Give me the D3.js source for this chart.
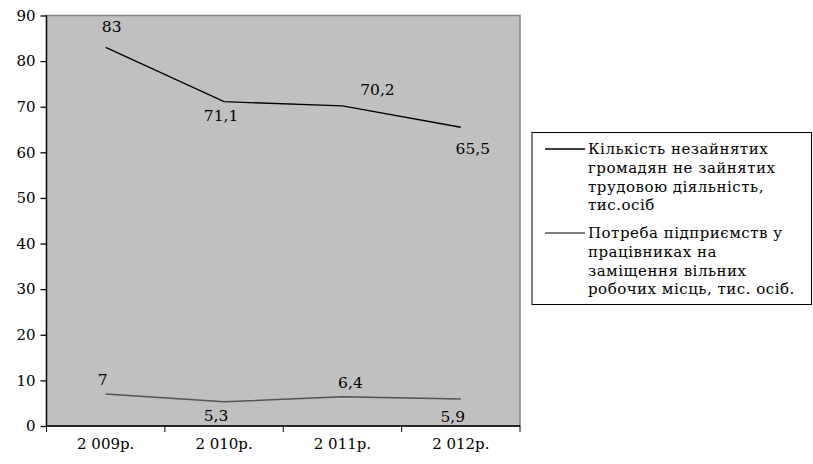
<!DOCTYPE html>
<html>
<head>
<meta charset="utf-8">
<script src="https://cdn.jsdelivr.net/npm/d3@7"></script>
<style>
  body { margin: 0; background: #fff; }
</style>
</head>
<body>
<script>
// chart data
const years = ["2 009р.", "2 010р.", "2 011р.", "2 012р."];
const unemployed = [83, 71.1, 70.2, 65.5];
const vacancies = [7, 5.3, 6.4, 5.9];
const yTicks = [0, 10, 20, 30, 40, 50, 60, 70, 80, 90];
const seriesNames = [
  ["Кількість незайнятих", "громадян не зайнятих", "трудовою діяльність,", "тис.осіб"],
  ["Потреба підприємств у", "працівниках на", "заміщення вільних", "робочих місць, тис. осіб."]
];

// label placement (dx, dy from the point)
const labelShift1 = [[6, -21], [-3, 14], [35, -16], [12, 21]];
const labelShift2 = [[-3, -14], [-8, 14], [8, -14], [-8, 17]];

const FONT = "DejaVu Serif";
const width = 813, height = 464;
const plot = { left: 46.5, right: 520, top: 15.5, bottom: 426 };

const svg = d3.select("body").append("svg")
    .attr("width", width)
    .attr("height", height)
    .attr("font-family", FONT);

const x = d3.scaleBand()
    .domain(years)
    .range([plot.left, plot.right]);

const y = d3.scaleLinear()
    .domain([0, 90])
    .range([plot.bottom, plot.top]);

// plot background
svg.append("rect")
    .attr("x", plot.left)
    .attr("y", plot.top)
    .attr("width", plot.right - plot.left)
    .attr("height", plot.bottom - plot.top)
    .attr("fill", "#c0c0c0")
    .attr("stroke", "#808080")
    .attr("stroke-width", 1.5);

// axes
const yAxis = svg.append("g")
    .attr("transform", `translate(${plot.left},0)`)
    .call(d3.axisLeft(y).tickValues(yTicks).tickSize(6).tickPadding(5));

const xAxis = svg.append("g")
    .attr("transform", `translate(0,${plot.bottom})`)
    .call(d3.axisBottom(x).tickSize(0).tickPadding(12));

[yAxis, xAxis].forEach(a => {
  a.attr("font-family", FONT).attr("font-size", 15);
  a.selectAll("text").attr("font-family", FONT).attr("fill", "#000");
  a.selectAll("path, line").attr("stroke", "#000").attr("stroke-width", 1.3);
});
xAxis.select("path").attr("d", `M${plot.left},0H${plot.right}`);
yAxis.select("path").attr("d", `M0,${plot.bottom}V${plot.top}`);

// category separator ticks
svg.append("g")
    .selectAll("line")
    .data(years.concat(["end"]))
    .enter()
    .append("line")
    .attr("x1", (d, i) => plot.left + i * x.bandwidth())
    .attr("x2", (d, i) => plot.left + i * x.bandwidth())
    .attr("y1", plot.bottom)
    .attr("y2", plot.bottom + 6)
    .attr("stroke", "#000");

const cx = d => x(d) + x.bandwidth() / 2;

function drawSeries(values, color, lw, shifts) {
  const line = d3.line()
      .x((d, i) => cx(years[i]))
      .y(d => y(d));

  svg.append("path")
      .datum(values)
      .attr("d", line)
      .attr("fill", "none")
      .attr("stroke", color)
      .attr("stroke-width", lw);

  svg.append("g")
      .selectAll("text")
      .data(values)
      .enter()
      .append("text")
      .attr("x", (d, i) => cx(years[i]) + shifts[i][0])
      .attr("y", (d, i) => y(d) + shifts[i][1])
      .attr("dy", "0.35em")
      .attr("text-anchor", "middle")
      .attr("font-family", FONT)
      .attr("font-size", 15.5)
      .text(d => String(d).replace(".", ","));
}

drawSeries(unemployed, "#000", 1.3, labelShift1);
drawSeries(vacancies, "#555", 1.5, labelShift2);

// legend
const legend = svg.append("g");
legend.append("rect")
    .attr("x", 532)
    .attr("y", 132.5)
    .attr("width", 279.5)
    .attr("height", 172)
    .attr("fill", "#fff")
    .attr("stroke", "#000");

const legendColors = ["#000", "#555"];
seriesNames.forEach((lines, k) => {
  const top = 149 + k * 84;
  legend.append("line")
      .attr("x1", 545).attr("x2", 585)
      .attr("y1", top).attr("y2", top)
      .attr("stroke", legendColors[k])
      .attr("stroke-width", 1.3);
  lines.forEach((t, j) => {
    legend.append("text")
        .attr("x", 588)
        .attr("y", top + j * 18.7)
        .attr("dy", "0.35em")
        .attr("font-family", FONT)
        .attr("font-size", 15)
        .attr("letter-spacing", 0.5)
        .text(t);
  });
});
</script>
</body>
</html>
